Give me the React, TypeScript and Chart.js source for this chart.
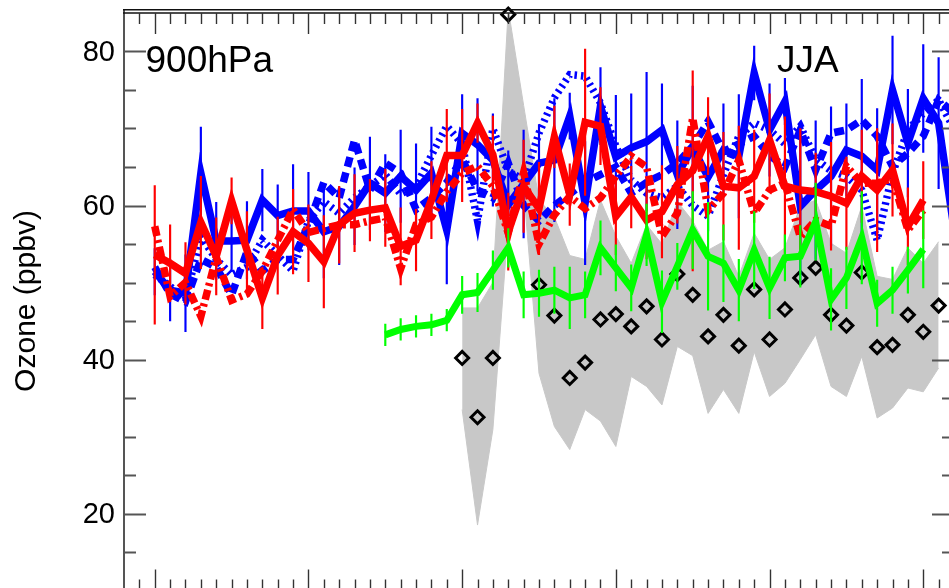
import React, { useEffect, useRef } from 'react';
import { Chart, registerables } from 'chart.js';

Chart.register(...registerables);

// ---------- data ----------
const START_MAIN = 1970; // blue / red series
const START_GREEN = 1985;
const START_OBS = 1990; // diamonds + grey range

const blueSolid = [
  51.4, 49.0, 48.6, 64.2, 55.4, 55.4, 55.5, 60.7, 58.7, 59.3,
  59.3, 56.6, 57.3, 59.9, 62.9, 61.6, 63.8, 62.0, 64.2, 56.8,
  69.4, 67.9, 65.9, 60.1, 62.8, 65.5, 65.9, 71.6, 60.3, 72.9,
  66.3, 67.5, 68.3, 69.8, 64.0, 67.5, 63.7, 67.2, 66.4, 77.2,
  69.8, 73.5, 59.9, 62.0, 63.8, 67.2, 66.4, 64.6, 75.0, 68.1,
  73.9, 70.7, 57.0,
];
const blueErr = [
  3, 4, 5, 6, 5, 4, 5, 4, 4, 6,
  5, 6, 5, 5, 6, 5, 6, 6, 6, 7,
  5, 6, 6, 7, 7, 5, 8, 3, 8, 5,
  8, 7, 9, 6, 7, 8, 7, 6, 8, 3.5,
  6, 3, 10, 9, 9, 6, 10, 8, 7, 7,
  7, 8.5,
];
const blueDashed = [
  52.0, 48.5, 47.5, 53.0, 52.0, 48.4, 54.0, 51.5, 53.0, 53.0,
  57.5, 63.0, 61.0, 68.5, 62.0, 65.5, 64.2, 59.5, 61.0, 63.0,
  66.0, 62.0, 61.0, 65.5, 60.0, 58.0, 60.0, 61.5, 63.0, 64.0,
  65.0, 61.6, 63.0, 64.0, 65.5, 67.7, 70.9, 67.0, 68.0, 69.0,
  66.5, 65.0, 69.8, 64.6, 69.4, 69.8, 71.1, 69.0, 65.1, 66.8,
  69.0, 73.7, 72.0,
];
const blueDotted = [
  51.0, 49.5, 47.8, 56.0, 53.0, 51.0, 52.0, 55.5, 53.5, 51.5,
  58.0, 60.5, 59.0, 61.0, 62.5, 64.0, 61.5, 62.5, 66.5, 70.3,
  68.0, 58.0, 70.0, 64.5, 63.3, 69.4, 74.0, 77.0, 76.8, 73.3,
  67.7, 63.3, 61.6, 61.0, 62.5, 60.0, 58.6, 64.0, 69.0, 70.7,
  69.8, 68.0, 70.3, 66.0, 64.5, 63.8, 62.0, 55.5, 64.2, 69.8,
  72.0, 73.7, 70.0,
];
const redSolid = [
  53.6, 52.5, 51.2, 57.8, 53.4, 60.6, 54.2, 48.0, 53.5, 56.6,
  55.1, 52.7, 57.5, 59.0, 59.4, 59.7, 54.7, 55.5, 60.7, 66.5,
  66.5, 70.7, 66.6, 56.6, 62.5, 59.6, 68.9, 61.4, 70.8, 70.3,
  58.6, 61.1, 58.1, 59.2, 62.7, 64.5, 69.0, 62.5, 62.3, 63.8,
  68.5, 62.5, 62.0, 61.8, 61.2, 60.3, 63.8, 62.0, 64.6, 57.3,
  60.7,
];
const redErr = [
  9, 5, 4, 6, 5, 3, 5, 4, 5, 5.5,
  5, 6, 5, 5, 4, 5, 5, 4, 5, 6,
  6, 2.5, 5, 5, 6, 6, 4, 4, 9.5, 5,
  5, 4, 5, 6, 5, 13, 5, 7, 8, 6,
  6, 9, 8, 5, 7, 6, 6, 8, 6, 5,
  5,
];
const redDashed = [
  57.3, 48.2, 50.0, 45.6, 53.3, 47.7, 48.5, 51.5, 55.5, 59.5,
  56.5, 57.0, 57.5, 57.5, 58.0, 58.4, 51.8, 57.5, 58.5, 61.8,
  64.2, 65.1, 62.5, 56.4, 64.3, 55.0, 58.8, 61.2, 59.6, 61.0,
  63.8, 66.4, 65.0, 56.0, 59.0, 71.4, 59.4, 61.6, 65.9, 59.0,
  62.0, 62.9, 55.9, 58.1, 57.3, 65.1, 62.9, 62.9, 63.5, 56.8,
  59.4,
];
const green = [
  43.2, 43.9, 44.3, 44.5, 45.1,
  48.4, 48.7, 51.6, 54.5, 48.4, 48.6, 49.0, 48.0, 48.4, 54.5,
  51.9, 49.3, 56.2, 47.5, 52.1, 56.8, 53.4, 52.5, 49.0, 54.2,
  49.3, 53.2, 53.4, 57.9, 47.8, 50.6, 55.8, 47.3, 49.0, 51.6,
  54.3,
];
const greenErr = [
  1.4, 1.4, 1.4, 1.4, 1.4,
  2.4, 2.5, 2.5, 2.5, 3, 3, 3, 4, 3, 3.5,
  3, 3, 4, 4, 3, 5, 7, 5, 4, 5,
  4, 3, 4, 5, 4, 4, 6, 3, 3, 3,
  5,
];
const obsDiamonds = [
  40.2, 32.5, 40.2, 84.8, null, 49.7, 45.7, 37.6, 39.6, 45.2,
  45.9, 44.3, 46.9, 42.6, 51.1, 48.4, 43.0, 45.8, 41.8, 49.1,
  42.6, 46.5, 50.6, 51.9, 45.8, 44.4, 51.3, 41.6, 41.9, 45.8,
  43.6, 47.0,
];
const rangeUpper = [
  46.7, 46.7, 50.0, 85.5, 73.0, 60.7, 58.5, 53.5, 53.0, 60.7,
  56.0, 52.5, 57.5, 55.0, 60.5, 58.0, 54.2, 55.3, 50.8, 56.4,
  53.0, 54.5, 59.9, 60.7, 55.1, 53.8, 59.9, 50.8, 50.4, 54.5,
  52.5, 55.3,
];
const rangeLower = [
  33.5, 18.5, 30.9, 57.5, 62.0, 38.2, 31.3, 28.3, 33.5, 32.0,
  28.7, 37.8, 36.5, 34.1, 41.7, 40.5, 33.0, 36.1, 33.0, 41.0,
  35.2, 36.9, 40.0, 43.2, 36.5, 35.2, 40.4, 32.4, 33.7, 36.3,
  35.8, 38.9,
];

const yTickLabels = [20, 40, 60, 80];
const X_MIN = 1968;
const X_MAX = 2022;
const Y_MIN = 10;
const Y_MAX = 85;

// ---------- helpers ----------
const FONT = '"Liberation Sans", Arial, Helvetica, sans-serif';
const pts = (start: number, arr: (number | null)[]) => arr.map((v, i) => ({ x: start + i, y: v }));
const bars = (start: number, vals: number[], errs: number[]) =>
  errs.map((e, i) => ({ x: start + i, y: [vals[i] - e, vals[i] + e] }));

const lineDs = (label: string, start: number, arr: number[], color: string, width: number, dash: number[], order: number) => ({
  type: 'line' as const,
  label,
  data: pts(start, arr),
  borderColor: color,
  backgroundColor: color,
  borderWidth: width,
  borderDash: dash,
  pointRadius: 0,
  tension: 0,
  fill: false,
  order,
});

const barDs = (label: string, start: number, vals: number[], errs: number[], color: string, order: number) => ({
  type: 'bar' as const,
  label,
  data: bars(start, vals, errs),
  backgroundColor: color,
  borderWidth: 0,
  barThickness: 1.5,
  grouped: false,
  order,
});

const framePlugin = {
  id: 'frame',
  afterDraw(chart: any) {
    const { ctx, chartArea: a, scales } = chart;
    const xs = scales.x;
    const ys = scales.y;
    const seg = (x1: number, y1: number, x2: number, y2: number) => {
      ctx.beginPath();
      ctx.moveTo(x1, y1);
      ctx.lineTo(x2, y2);
      ctx.stroke();
    };
    ctx.save();
    ctx.lineCap = 'butt';
    // axes
    ctx.strokeStyle = '#555';
    ctx.lineWidth = 2;
    seg(a.left, a.top - 4, a.left, a.bottom + 1);
    seg(a.right, a.top, a.right, a.bottom);
    seg(a.left, a.bottom, a.right, a.bottom);
    for (let v = Y_MIN + 5; v < Y_MAX; v += 5) {
      const py = Math.round(ys.getPixelForValue(v)) + 0.5;
      const len = v % 20 === 0 ? 22 : 12;
      seg(a.left, py, a.left + len, py);
      seg(a.right - len, py, a.right, py);
    }
    // top double line
    ctx.strokeStyle = '#111';
    ctx.lineWidth = 1.4;
    seg(a.left - 1, a.top, a.right, a.top);
    seg(a.left - 1, a.top - 3.2, a.right, a.top - 3.2);
    ctx.strokeStyle = '#333';
    ctx.lineWidth = 1.4;
    for (let yr = X_MIN + 1; yr < X_MAX; yr++) {
      const px = Math.round(xs.getPixelForValue(yr)) + 0.5;
      const len = yr % 10 === 0 ? 21 : 11;
      seg(px, a.top, px, a.top + len);
      seg(px, a.bottom - len, px, a.bottom);
    }
    // y tick labels
    ctx.fillStyle = '#000';
    ctx.font = `29px ${FONT}`;
    ctx.textAlign = 'right';
    ctx.textBaseline = 'middle';
    for (const v of yTickLabels) {
      ctx.fillText(String(v), a.left - 9, ys.getPixelForValue(v) + 1);
    }
    // texts
    ctx.textBaseline = 'alphabetic';
    ctx.textAlign = 'left';
    ctx.font = `37px ${FONT}`;
    ctx.fillText('900hPa', 145.5, 72);
    ctx.fillText('JJA', 777, 72);
    ctx.save();
    ctx.translate(35, 301);
    ctx.rotate(-Math.PI / 2);
    ctx.textAlign = 'center';
    ctx.font = `30px ${FONT}`;
    ctx.fillText('Ozone (ppbv)', 0, 0);
    ctx.restore();
    ctx.restore();
  },
};

export default function App() {
  const ref = useRef<HTMLCanvasElement>(null);
  useEffect(() => {
    document.body.style.overflow = 'hidden';
    const chart = new Chart(ref.current as HTMLCanvasElement, {
      type: 'line',
      data: {
        datasets: [
          {
            type: 'line',
            label: 'range lower',
            data: pts(START_OBS, rangeLower),
            borderColor: '#c8c8c8',
            borderWidth: 1,
            pointRadius: 0,
            tension: 0,
            fill: false,
            order: 40,
          },
          {
            type: 'line',
            label: 'range upper',
            data: pts(START_OBS, rangeUpper),
            borderColor: '#c8c8c8',
            backgroundColor: '#c8c8c8',
            borderWidth: 1,
            pointRadius: 0,
            tension: 0,
            fill: '-1',
            order: 39,
          },
          {
            type: 'line',
            label: 'obs',
            data: pts(START_OBS, obsDiamonds),
            showLine: false,
            pointStyle: 'rectRot',
            pointRadius: 6.5,
            pointBorderWidth: 3,
            pointBorderColor: '#000',
            pointBackgroundColor: 'rgba(0,0,0,0)',
            borderColor: '#000',
            clip: false,
            order: 30,
          },
          lineDs('blue dotted', START_MAIN, blueDotted, '#0000ff', 7.5, [2.5, 4], 14),
          lineDs('blue dashed', START_MAIN, blueDashed, '#0000ff', 7.5, [10, 6], 13),
          lineDs('blue solid', START_MAIN, blueSolid, '#0000ff', 7.5, [], 12),
          barDs('blue err', START_MAIN, blueSolid, blueErr, '#0000ff', 11),
          lineDs('red dashed', START_MAIN, redDashed, '#ff0000', 7.5, [10, 4, 3, 4], 10),
          lineDs('red solid', START_MAIN, redSolid, '#ff0000', 7.5, [], 9),
          barDs('red err', START_MAIN, redSolid, redErr, '#ff0000', 8),
          lineDs('green', START_GREEN, green, '#00ff00', 7, [], 6),
          barDs('green err', START_GREEN, green, greenErr, '#00ff00', 5),
        ] as any,
      },
      options: {
        responsive: false,
        animation: false,
        devicePixelRatio: 1,
        layout: { padding: { left: 124, top: 13, right: 16, bottom: 9.5 } },
        plugins: {
          legend: { display: false },
          tooltip: { enabled: false },
          filler: { drawTime: 'beforeDatasetsDraw' },
        } as any,
        scales: {
          x: {
            type: 'linear',
            min: X_MIN,
            max: X_MAX,
            display: false,
            offset: false,
          },
          y: {
            type: 'linear',
            min: Y_MIN,
            max: Y_MAX,
            display: false,
          },
        } as any,
      },
      plugins: [framePlugin],
    });
    return () => chart.destroy();
  }, []);
  return (
    <div style={{ position: 'fixed', left: 0, top: 0, width: 970, height: 600, background: '#fff' }}>
      <canvas ref={ref} width={970} height={600} style={{ display: 'block' }} />
    </div>
  );
}
